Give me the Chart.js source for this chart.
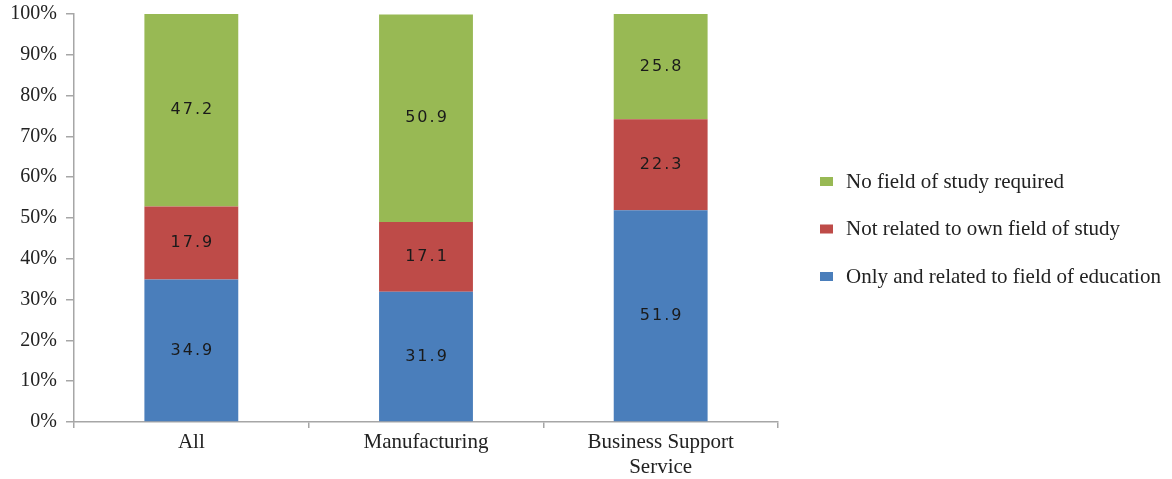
<!DOCTYPE html>
<html>
<head>
<meta charset="utf-8">
<script src="https://cdn.jsdelivr.net/npm/chart.js@4"></script>
<style>
  html, body { margin: 0; padding: 0; background: #fff; }
  #wrap { width: 1172px; height: 479px; }
</style>
</head>
<body>
<div id="wrap"><canvas id="myChart" width="1172" height="479"></canvas></div>
<script>
const categories = [['All'], ['Manufacturing'], ['Business Support', 'Service']]
const relatedValues = [34.9, 31.9, 51.9]
const notRelatedValues = [17.9, 17.1, 22.3]
const noFieldValues = [47.2, 50.9, 25.8]
const yTicks = [0, 10, 20, 30, 40, 50, 60, 70, 80, 90, 100]

const colors = {
  blue: '#4a7ebb',
  red: '#be4b48',
  green: '#98b954',
  axis: '#a6a6a6',
  text: '#222222'
}

const serif = '"Liberation Serif", "Times New Roman", serif'

// value labels in the middle of each segment
const segmentLabels = {
  id: 'segmentLabels',
  afterDatasetsDraw(chart) {
    const ctx = chart.ctx
    ctx.save()
    ctx.font = '16px "DejaVu Sans", sans-serif'
    ctx.letterSpacing = '2px'
    ctx.fillStyle = '#1a1a1a'
    ctx.textAlign = 'center'
    ctx.textBaseline = 'middle'
    chart.data.datasets.forEach((ds, i) => {
      chart.getDatasetMeta(i).data.forEach((bar, j) => {
        const { x, y, base } = bar.getProps(['x', 'y', 'base'], true)
        ctx.fillText(ds.data[j].toFixed(1), x + 1, (y + base) / 2)
      })
    })
    ctx.restore()
  }
}

// legend drawn at the right, top item = last dataset
const sideLegend = {
  id: 'sideLegend',
  afterDraw(chart) {
    const ctx = chart.ctx
    ctx.save()
    ctx.font = '21px ' + serif
    ctx.textBaseline = 'middle'
    const items = chart.data.datasets.slice().reverse()
    items.forEach((ds, i) => {
      const cy = 181 + i * 47.5
      ctx.fillStyle = ds.backgroundColor
      ctx.fillRect(820, cy - 4, 13, 9)
      ctx.fillStyle = colors.text
      ctx.fillText(ds.label, 846, cy + 1)
    })
    ctx.restore()
  }
}

const data = {
  labels: categories,
  datasets: [
    { label: 'Only and related to field of education', data: relatedValues, backgroundColor: colors.blue },
    { label: 'Not related to own field of study', data: notRelatedValues, backgroundColor: colors.red },
    { label: 'No field of study required', data: noFieldValues, backgroundColor: colors.green }
  ]
}

const config = {
  type: 'bar',
  data: data,
  options: {
    responsive: false,
    animation: false,
    layout: { padding: { top: 14, right: 394, bottom: 0, left: 0 } },
    datasets: {
      bar: { categoryPercentage: 1, barPercentage: 0.4, borderWidth: 0 }
    },
    plugins: {
      legend: { display: false },
      tooltip: { enabled: false }
    },
    scales: {
      x: {
        stacked: true,
        offset: true,
        border: { color: colors.axis, width: 1.5 },
        grid: { offset: true, drawOnChartArea: false, tickLength: 6, color: colors.axis, lineWidth: 1.5 },
        ticks: { color: colors.text, font: { family: serif, size: 21, lineHeight: 1.2 }, padding: 2, maxRotation: 0 },
        afterFit(scale) { scale.height = 57; scale.paddingLeft = 0; scale.paddingRight = 0 }
      },
      y: {
        stacked: true,
        min: 0,
        max: 100,
        afterBuildTicks(scale) { scale.ticks = yTicks.map(v => ({ value: v })) },
        border: { color: colors.axis, width: 1.5 },
        grid: { drawOnChartArea: false, tickLength: 8, color: colors.axis, lineWidth: 1.5 },
        ticks: {
          color: colors.text,
          font: { family: serif, size: 20 },
          padding: 9,
          callback: v => v + '%'
        },
        afterFit(scale) { scale.width = 74; scale.paddingTop = 0; scale.paddingBottom = 0 }
      }
    }
  },
  plugins: [segmentLabels, sideLegend]
}

const myChart = new Chart(document.getElementById('myChart'), config)
</script>
</body>
</html>
